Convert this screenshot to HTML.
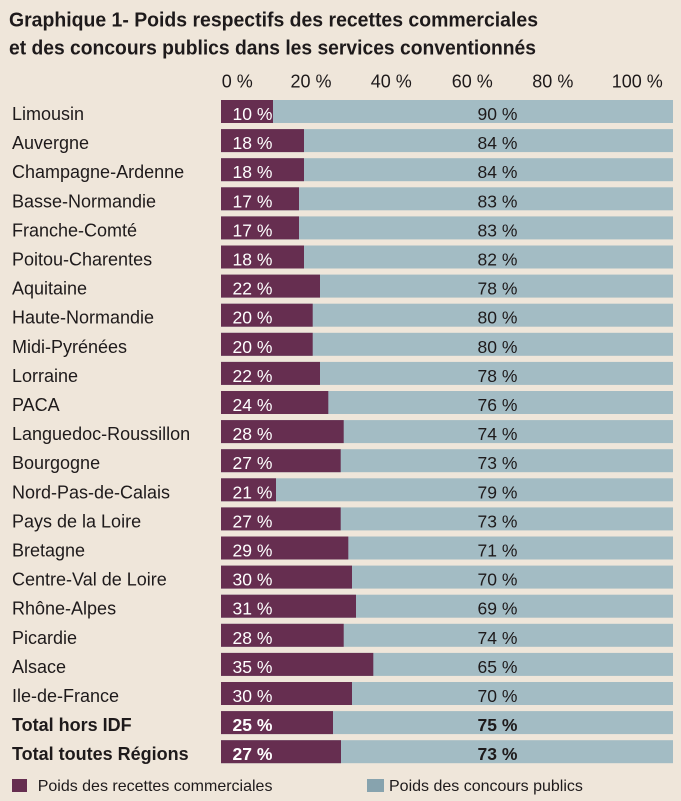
<!DOCTYPE html>
<html>
<head>
<meta charset="utf-8">
<style>
html,body{margin:0;padding:0;background:#EFE6DA;}
svg{display:block;}
text{font-family:"Liberation Sans",Arial,sans-serif;}
</style>
</head>
<body>
<svg width="681" height="801" viewBox="0 0 681 801" xmlns="http://www.w3.org/2000/svg">
<rect x="0" y="0" width="681" height="801" fill="#EFE6DA"/>
<g fill="#1E1A1B" font-weight="bold" font-size="20">
<text x="9" y="26.7" textLength="529" lengthAdjust="spacingAndGlyphs">Graphique 1- Poids respectifs des recettes commerciales</text>
<text x="9" y="54.5" textLength="527" lengthAdjust="spacingAndGlyphs">et des concours publics dans les services conventionnés</text>
</g>
<g fill="#1E1A1B" font-size="18">
<text x="221.7" y="87.3">0 %</text>
<text x="290.5" y="87.3">20 %</text>
<text x="370.7" y="87.3">40 %</text>
<text x="451.7" y="87.3">60 %</text>
<text x="532.3" y="87.3">80 %</text>
<text x="611.7" y="87.3">100 %</text>
</g>
<g id="rows"></g>
<rect x="12" y="779" width="15" height="13" fill="#662E50"/>
<text x="37.7" y="791" font-size="16" fill="#1E1A1B">Poids des recettes commerciales</text>
<rect x="367" y="779" width="17" height="13" fill="#87A3AE"/>
<text x="389" y="791" font-size="16" fill="#1E1A1B">Poids des concours publics</text>

<!-- rows -->
<g font-size="18">
<!-- row template: top = 100 + 29.1*i -->
<rect x="221" y="100.0" width="452" height="23" fill="#A3BCC4"/><rect x="221" y="100.0" width="52" height="23" fill="#662E50"/>
<text x="12" y="120.0" fill="#1E1A1B">Limousin</text><text x="232.5" y="120.0" fill="#fff" font-size="17.5">10 %</text><text x="477.5" y="120.0" fill="#1E1A1B" font-size="17.5">90 %</text>

<rect x="221" y="129.1" width="452" height="23" fill="#A3BCC4"/><rect x="221" y="129.1" width="83" height="23" fill="#662E50"/>
<text x="12" y="149.1" fill="#1E1A1B">Auvergne</text><text x="232.5" y="149.1" fill="#fff" font-size="17.5">18 %</text><text x="477.5" y="149.1" fill="#1E1A1B" font-size="17.5">84 %</text>

<rect x="221" y="158.2" width="452" height="23" fill="#A3BCC4"/><rect x="221" y="158.2" width="83" height="23" fill="#662E50"/>
<text x="12" y="178.2" fill="#1E1A1B">Champagne-Ardenne</text><text x="232.5" y="178.2" fill="#fff" font-size="17.5">18 %</text><text x="477.5" y="178.2" fill="#1E1A1B" font-size="17.5">84 %</text>

<rect x="221" y="187.3" width="452" height="23" fill="#A3BCC4"/><rect x="221" y="187.3" width="78" height="23" fill="#662E50"/>
<text x="12" y="207.3" fill="#1E1A1B">Basse-Normandie</text><text x="232.5" y="207.3" fill="#fff" font-size="17.5">17 %</text><text x="477.5" y="207.3" fill="#1E1A1B" font-size="17.5">83 %</text>

<rect x="221" y="216.4" width="452" height="23" fill="#A3BCC4"/><rect x="221" y="216.4" width="78" height="23" fill="#662E50"/>
<text x="12" y="236.4" fill="#1E1A1B">Franche-Comté</text><text x="232.5" y="236.4" fill="#fff" font-size="17.5">17 %</text><text x="477.5" y="236.4" fill="#1E1A1B" font-size="17.5">83 %</text>

<rect x="221" y="245.5" width="452" height="23" fill="#A3BCC4"/><rect x="221" y="245.5" width="83" height="23" fill="#662E50"/>
<text x="12" y="265.5" fill="#1E1A1B">Poitou-Charentes</text><text x="232.5" y="265.5" fill="#fff" font-size="17.5">18 %</text><text x="477.5" y="265.5" fill="#1E1A1B" font-size="17.5">82 %</text>

<rect x="221" y="274.6" width="452" height="23" fill="#A3BCC4"/><rect x="221" y="274.6" width="99" height="23" fill="#662E50"/>
<text x="12" y="294.6" fill="#1E1A1B">Aquitaine</text><text x="232.5" y="294.6" fill="#fff" font-size="17.5">22 %</text><text x="477.5" y="294.6" fill="#1E1A1B" font-size="17.5">78 %</text>

<rect x="221" y="303.7" width="452" height="23" fill="#A3BCC4"/><rect x="221" y="303.7" width="91.7" height="23" fill="#662E50"/>
<text x="12" y="323.7" fill="#1E1A1B">Haute-Normandie</text><text x="232.5" y="323.7" fill="#fff" font-size="17.5">20 %</text><text x="477.5" y="323.7" fill="#1E1A1B" font-size="17.5">80 %</text>

<rect x="221" y="332.8" width="452" height="23" fill="#A3BCC4"/><rect x="221" y="332.8" width="91.7" height="23" fill="#662E50"/>
<text x="12" y="352.8" fill="#1E1A1B">Midi-Pyrénées</text><text x="232.5" y="352.8" fill="#fff" font-size="17.5">20 %</text><text x="477.5" y="352.8" fill="#1E1A1B" font-size="17.5">80 %</text>

<rect x="221" y="361.9" width="452" height="23" fill="#A3BCC4"/><rect x="221" y="361.9" width="99" height="23" fill="#662E50"/>
<text x="12" y="381.9" fill="#1E1A1B">Lorraine</text><text x="232.5" y="381.9" fill="#fff" font-size="17.5">22 %</text><text x="477.5" y="381.9" fill="#1E1A1B" font-size="17.5">78 %</text>

<rect x="221" y="391.0" width="452" height="23" fill="#A3BCC4"/><rect x="221" y="391.0" width="107.3" height="23" fill="#662E50"/>
<text x="12" y="411.0" fill="#1E1A1B">PACA</text><text x="232.5" y="411.0" fill="#fff" font-size="17.5">24 %</text><text x="477.5" y="411.0" fill="#1E1A1B" font-size="17.5">76 %</text>

<rect x="221" y="420.1" width="452" height="23" fill="#A3BCC4"/><rect x="221" y="420.1" width="122.7" height="23" fill="#662E50"/>
<text x="12" y="440.1" fill="#1E1A1B">Languedoc-Roussillon</text><text x="232.5" y="440.1" fill="#fff" font-size="17.5">28 %</text><text x="477.5" y="440.1" fill="#1E1A1B" font-size="17.5">74 %</text>

<rect x="221" y="449.2" width="452" height="23" fill="#A3BCC4"/><rect x="221" y="449.2" width="119.7" height="23" fill="#662E50"/>
<text x="12" y="469.2" fill="#1E1A1B">Bourgogne</text><text x="232.5" y="469.2" fill="#fff" font-size="17.5">27 %</text><text x="477.5" y="469.2" fill="#1E1A1B" font-size="17.5">73 %</text>

<rect x="221" y="478.3" width="452" height="23" fill="#A3BCC4"/><rect x="221" y="478.3" width="55" height="23" fill="#662E50"/>
<text x="12" y="498.3" fill="#1E1A1B">Nord-Pas-de-Calais</text><text x="232.5" y="498.3" fill="#fff" font-size="17.5">21 %</text><text x="477.5" y="498.3" fill="#1E1A1B" font-size="17.5">79 %</text>

<rect x="221" y="507.4" width="452" height="23" fill="#A3BCC4"/><rect x="221" y="507.4" width="119.7" height="23" fill="#662E50"/>
<text x="12" y="527.4" fill="#1E1A1B">Pays de la Loire</text><text x="232.5" y="527.4" fill="#fff" font-size="17.5">27 %</text><text x="477.5" y="527.4" fill="#1E1A1B" font-size="17.5">73 %</text>

<rect x="221" y="536.5" width="452" height="23" fill="#A3BCC4"/><rect x="221" y="536.5" width="127.3" height="23" fill="#662E50"/>
<text x="12" y="556.5" fill="#1E1A1B">Bretagne</text><text x="232.5" y="556.5" fill="#fff" font-size="17.5">29 %</text><text x="477.5" y="556.5" fill="#1E1A1B" font-size="17.5">71 %</text>

<rect x="221" y="565.6" width="452" height="23" fill="#A3BCC4"/><rect x="221" y="565.6" width="131" height="23" fill="#662E50"/>
<text x="12" y="585.6" fill="#1E1A1B">Centre-Val de Loire</text><text x="232.5" y="585.6" fill="#fff" font-size="17.5">30 %</text><text x="477.5" y="585.6" fill="#1E1A1B" font-size="17.5">70 %</text>

<rect x="221" y="594.7" width="452" height="23" fill="#A3BCC4"/><rect x="221" y="594.7" width="135" height="23" fill="#662E50"/>
<text x="12" y="614.7" fill="#1E1A1B">Rhône-Alpes</text><text x="232.5" y="614.7" fill="#fff" font-size="17.5">31 %</text><text x="477.5" y="614.7" fill="#1E1A1B" font-size="17.5">69 %</text>

<rect x="221" y="623.8" width="452" height="23" fill="#A3BCC4"/><rect x="221" y="623.8" width="122.7" height="23" fill="#662E50"/>
<text x="12" y="643.8" fill="#1E1A1B">Picardie</text><text x="232.5" y="643.8" fill="#fff" font-size="17.5">28 %</text><text x="477.5" y="643.8" fill="#1E1A1B" font-size="17.5">74 %</text>

<rect x="221" y="652.9" width="452" height="23" fill="#A3BCC4"/><rect x="221" y="652.9" width="152.3" height="23" fill="#662E50"/>
<text x="12" y="672.9" fill="#1E1A1B">Alsace</text><text x="232.5" y="672.9" fill="#fff" font-size="17.5">35 %</text><text x="477.5" y="672.9" fill="#1E1A1B" font-size="17.5">65 %</text>

<rect x="221" y="682.0" width="452" height="23" fill="#A3BCC4"/><rect x="221" y="682.0" width="131" height="23" fill="#662E50"/>
<text x="12" y="702.0" fill="#1E1A1B">Ile-de-France</text><text x="232.5" y="702.0" fill="#fff" font-size="17.5">30 %</text><text x="477.5" y="702.0" fill="#1E1A1B" font-size="17.5">70 %</text>

<rect x="221" y="711.1" width="452" height="23" fill="#A3BCC4"/><rect x="221" y="711.1" width="112" height="23" fill="#662E50"/>
<text x="12" y="731.1" fill="#1E1A1B" font-weight="bold">Total hors IDF</text><text x="232.5" y="731.1" fill="#fff" font-size="17.5" font-weight="bold">25 %</text><text x="477.5" y="731.1" fill="#1E1A1B" font-size="17.5" font-weight="bold">75 %</text>

<rect x="221" y="740.2" width="452" height="23" fill="#A3BCC4"/><rect x="221" y="740.2" width="120" height="23" fill="#662E50"/>
<text x="12" y="760.2" fill="#1E1A1B" font-weight="bold">Total toutes Régions</text><text x="232.5" y="760.2" fill="#fff" font-size="17.5" font-weight="bold">27 %</text><text x="477.5" y="760.2" fill="#1E1A1B" font-size="17.5" font-weight="bold">73 %</text>
</g>
</svg>
</body>
</html>
